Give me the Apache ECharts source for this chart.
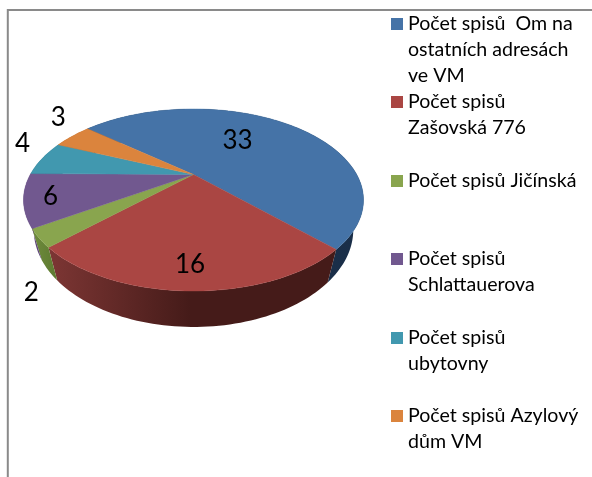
<!DOCTYPE html>
<html><head><meta charset="utf-8">
<style>html,body{margin:0;padding:0;background:#fff}#c{width:592px;height:477px}</style>
<script src="https://cdn.jsdelivr.net/npm/echarts@6/dist/echarts.min.js"></script>
</head><body><div id="c"></div>
<script>
const categories = ["Počet spisů  Om na\nostatních adresách\nve VM","Počet spisů\nZašovská 776","Počet spisů Jičínská","Počet spisů\nSchlattauerova","Počet spisů\nubytovny","Počet spisů Azylový\ndům VM"];
const values = [33,16,2,6,4,3];

const colors = ["#4573A7","#AA4643","#89A54E","#71588F","#4198AF","#DB843D"];
const wallColors = [["#1b3350","#1a2e48"],["#7d3634","#451b19"],["#6f8b3d","#5d7a30"],["#5e4678","#5e4678"],["#2f7388","#2f7388"],["#a9622a","#a9622a"]];
const labelOffsets = [[-48,17],[-1,-26],[-8,54],[27,-3],[-20,-15],[-14,-19]];
const legendTops = [24,102,181,259,338,416];
const FONT = "Lato, 'Open Sans', sans-serif";
const START = -50, CX = 193.5, CY = 174.5, A = 163.2, B = 83.9, K = -0.28;

const total = values.reduce((a,b)=>a+b,0);
const starts = []; { let s = START; values.forEach(v=>{starts.push(s); s += v/total*360;}); }

function project(deg, r){
  const t = deg*Math.PI/180, u = r*Math.sin(t), v = -r*Math.cos(t), d = 1+K*v;
  return [CX + A*u/d, CY + B*v/d];
}
function bottomOf(p){ return [CX + 0.94*(p[0]-CX), 282 + 1.07*(p[1]-249)]; }
function rim(i){
  const a0 = starts[i], a1 = a0 + values[i]/total*360, pts = [];
  const n = Math.max(4, Math.ceil((a1-a0)/1.5));
  for(let k=0;k<=n;k++) pts.push(project(a0+(a1-a0)*k/n,1));
  return pts;
}

const seriesData = values.map((v,i)=>({name:categories[i],value:[v]}));

const option = {
  animation:false,
  backgroundColor:'#fff',
  series:[
    { type:'custom', name:'walls', coordinateSystem:'none', silent:true, z:1, data:seriesData,
      renderItem(params, api){
        const i = params.dataIndex, top = rim(i);
        const pts = top.concat(top.map(bottomOf).reverse());
        const w = wallColors[i];
        const xs = pts.map(p=>p[0]);
        const x0 = Math.min.apply(null,xs);
        let x1 = Math.max.apply(null,xs);
        if(i===1) x1 = 190;
        return {type:'polygon', shape:{points:pts},
          style:{fill:new echarts.graphic.LinearGradient(x0,0,x1,0,[{offset:0,color:w[0]},{offset:1,color:w[1]}],true)}};
      }},
    { type:'custom', name:'tops', coordinateSystem:'none', silent:true, z:2, data:seriesData,
      renderItem(params, api){
        const i = params.dataIndex;
        return {type:'polygon', shape:{points:[[CX,CY]].concat(rim(i))},
          style:{fill:colors[i],stroke:colors[i],lineWidth:0.4}};
      }},
    { type:'custom', name:'labels', coordinateSystem:'none', silent:true, z:3, data:seriesData,
      renderItem(params, api){
        const i = params.dataIndex;
        const mid = starts[i] + values[i]/total*180;
        const p = project(mid,1);
        return {type:'text', x:p[0]+labelOffsets[i][0], y:p[1]+labelOffsets[i][1],
          style:{text:String(api.value(0)),font:"26px "+FONT,fill:'#000',align:'center',verticalAlign:'middle'}};
      }}
  ],
  graphic:{elements:[
    {type:'polyline',silent:true,shape:{points:[[7.8,477],[7.8,10],[592,10]]},style:{stroke:'#8a8a8a',lineWidth:2,fill:null}}
  ].concat(categories.flatMap((name,i)=>[
    {type:'rect',silent:true,shape:{x:391,y:legendTops[i]-6,width:12,height:12},style:{fill:colors[i]}},
    {type:'text',silent:true,x:408,y:legendTops[i]-13,style:{text:name,font:"19.6px "+FONT,fill:'#000',lineHeight:26,align:'left',verticalAlign:'top'}}
  ]))}
};
echarts.init(document.getElementById('c'),null,{renderer:'canvas'}).setOption(option);
</script></body></html>
